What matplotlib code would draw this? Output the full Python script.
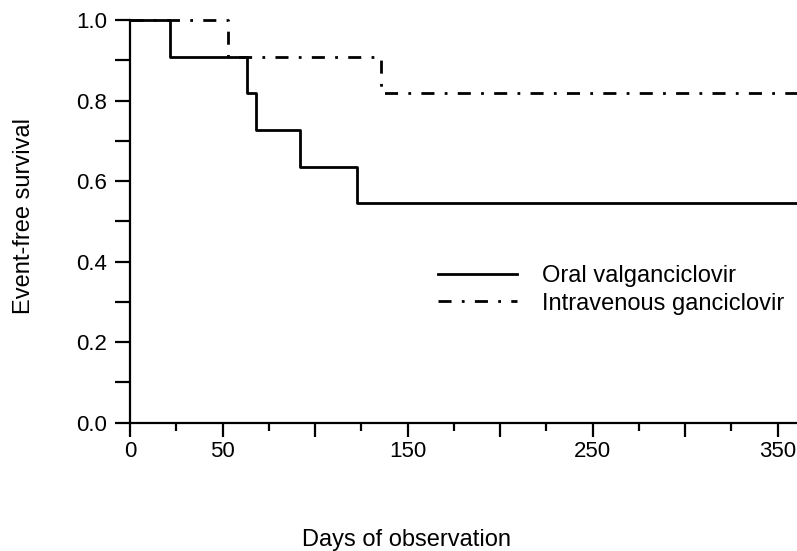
import matplotlib
matplotlib.use("Agg")
import matplotlib.pyplot as plt
from matplotlib.ticker import MultipleLocator, FixedFormatter, FixedLocator, FormatStrFormatter

plt.rcParams['font.family'] = ['Liberation Sans', 'DejaVu Sans']

# Kaplan-Meier step data (days, survival)
oral_days = [0, 21.6, 63.0, 67.9, 91.9, 122.5, 360.5]
oral_surv = [1.0, 0.909, 0.818, 0.727, 0.636, 0.545, 0.545]

iv_days = [0, 53.1, 135.6, 360.5]
iv_surv = [1.0, 0.909, 0.818, 0.818]

x_major = [0, 50, 100, 150, 200, 250, 300, 350]
x_labels = ["0", "50", "", "150", "", "250", "", "350"]

fig = plt.figure(figsize=(7.97, 5.51), dpi=100)
ax = fig.add_axes([130 / 797, 1 - 422.7 / 551, 667 / 797, 402.7 / 551])

ax.step(oral_days, oral_surv, where='post', color='black', lw=2,
        label='Oral valganciclovir', clip_on=False)
ax.step(iv_days, iv_surv, where='post', color='black', lw=2,
        dashes=(4.7, 3.7, 1.0, 3.7), label='Intravenous ganciclovir', clip_on=False)

ax.set_xlim(0, 360.5)
ax.set_ylim(0, 1.0)

ax.xaxis.set_major_locator(FixedLocator(x_major))
ax.xaxis.set_major_formatter(FixedFormatter(x_labels))
ax.xaxis.set_minor_locator(MultipleLocator(25))
ax.yaxis.set_major_locator(MultipleLocator(0.2))
ax.yaxis.set_minor_locator(MultipleLocator(0.1))
ax.yaxis.set_major_formatter(FormatStrFormatter('%.1f'))

for s in ['top', 'right']:
    ax.spines[s].set_visible(False)
for s in ['left', 'bottom']:
    ax.spines[s].set_linewidth(1.6)

ax.tick_params(axis='x', which='major', length=10, width=1.6, pad=3.5, labelsize=16)
ax.tick_params(axis='x', which='minor', length=6, width=1.6)
ax.tick_params(axis='y', which='both', length=11, width=1.6, pad=5.5, labelsize=16)

# axis titles placed where the reference has them
fig.text(24 / 797, 1 - 216 / 551, 'Event-free survival', fontsize=17,
         rotation=90, ha='center', va='center')
fig.text(406 / 797, 1 - 540 / 551, 'Days of observation', fontsize=17,
         ha='center', va='center')

ax.legend(loc='upper left', bbox_to_anchor=(0.462, 0.392), frameon=False,
          fontsize=17, handlelength=3.35, handletextpad=1.05,
          labelspacing=0.25, borderpad=0, borderaxespad=0)

fig.savefig('out.png', dpi=100)
